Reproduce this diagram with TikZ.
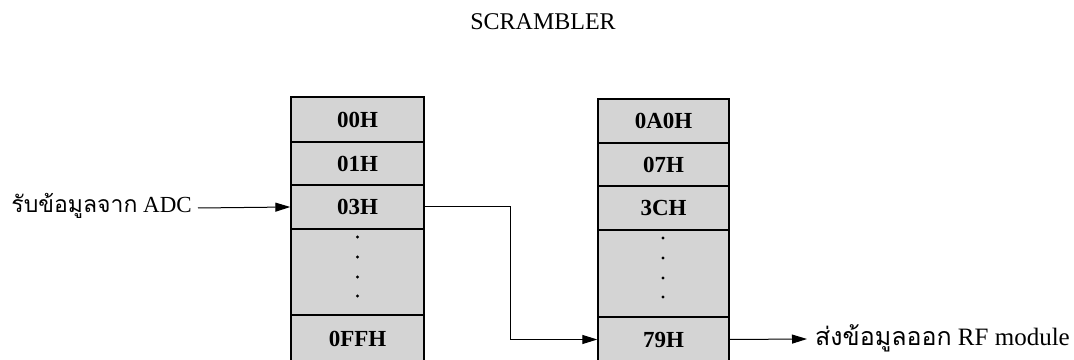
\documentclass[tikz,border=0pt]{standalone}
\usepackage{fontspec}
\setmainfont{Liberation Serif}
\newfontfamily\thaifont[Script=Thai]{Loma}
\usetikzlibrary{arrows.meta}
\tikzset{
  cell/.style={draw=black, line width=1.4pt, fill=black!17, minimum width=133pt,
    inner sep=0pt, font=\fontsize{23}{25}\selectfont\bfseries},
  rcell/.style={cell, minimum width=131pt},
  dotmark/.style={fill=black, circle, inner sep=0pt, minimum size=3.2pt},
  conn/.style={line width=1pt, -{Triangle[length=15pt,width=9pt]}},
  lbl/.style={font=\fontsize{23}{26}\selectfont, inner sep=0pt}
}
\begin{document}
\begin{tikzpicture}[x=1pt,y=1pt]
\useasboundingbox (0,0) rectangle (1074,359);
\clip (0,0) rectangle (1074,359);
% title
\node[lbl, font=\fontsize{24}{26}\selectfont] (title) at (543,337) {SCRAMBLER};
% left column
\node[cell, minimum height=45pt] (a0) at (357.5,239.5) {00H};
\node[cell, minimum height=43pt] (a1) at (357.5,195.5) {01H};
\node[cell, minimum height=44pt] (a2) at (357.5,152) {03H};
\node[cell, minimum height=86pt] (a3) at (357.5,87) {};
\node[cell, minimum height=47pt] (a4) at (357.5,20.5) {0FFH};
% right column
\node[rcell, minimum height=44pt] (b0) at (663.5,238) {0A0H};
\node[rcell, minimum height=43pt] (b1) at (663.5,194.5) {07H};
\node[rcell, minimum height=44pt] (b2) at (663.5,151) {3CH};
\node[rcell, minimum height=87pt] (b3) at (663.5,85.5) {};
\node[rcell, minimum height=45pt] (b4) at (663.5,19.5) {79H};
% dots
\foreach \yy [count=\i] in {122,102,82,63}{
  \node[dotmark] (da\i) at (357.5,\yy) {};
  \node[dotmark] (db\i) at (663,\yy-1) {};
}
% labels
\node[lbl, anchor=east, text height=10pt, text depth=0pt, inner xsep=6pt] (in) at (198,151)
  {{\thaifont รับข้อมูลจาก} ADC};
\node[lbl, font=\fontsize{25}{28}\selectfont, anchor=west, text height=14pt, text depth=0pt, inner xsep=8pt] (out) at (807,20)
  {{\thaifont ส่งข้อมูลออก} RF module};
% connectors
\draw[conn] (in.east) -- (a2.west);
\draw[conn] (a2.east) -- ++(86,0) |- (b4.west);
\draw[conn] (b4.east) -- (out.west);
\end{tikzpicture}
\end{document}
